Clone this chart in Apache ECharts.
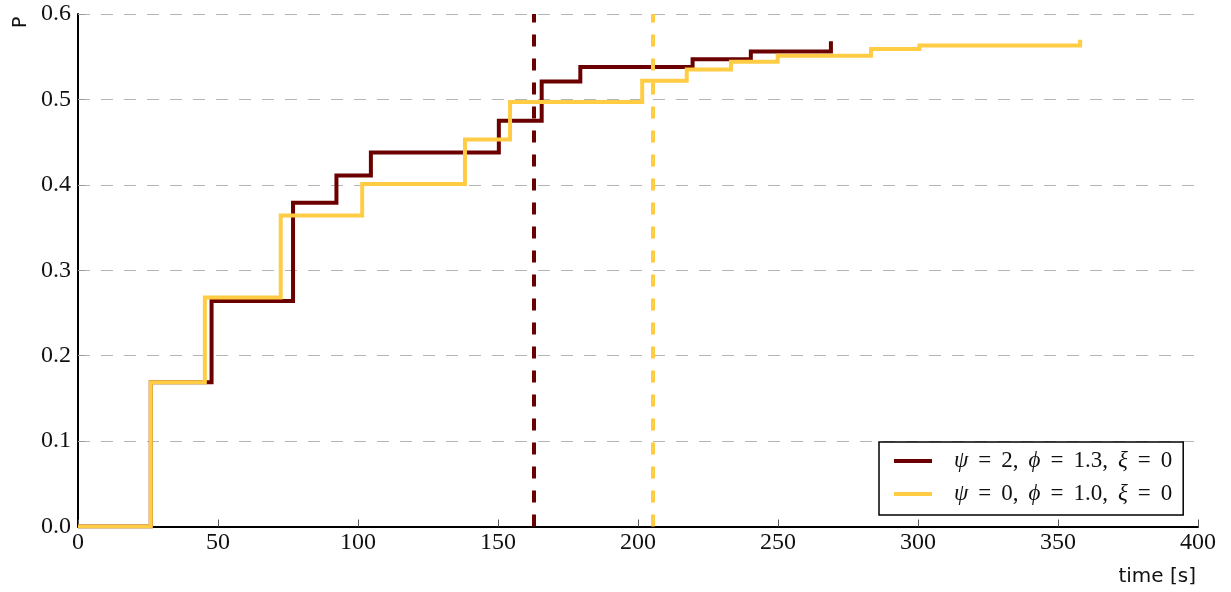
<!DOCTYPE html>
<html>
<head>
<meta charset="utf-8">
<script src="https://cdn.jsdelivr.net/npm/echarts@6/dist/echarts.min.js"></script>
<style>
html,body{margin:0;padding:0;background:#fff;}
#chart{width:1231px;height:592px;}
</style>
</head>
<body>
<div id="chart"></div>
<script>
// ---- data ----
const seriesNames = ['ψ = 2, ϕ = 1.3, ξ = 0', 'ψ = 0, ϕ = 1.0, ξ = 0'];
const darkTimes = [0, 26.0, 47.7, 76.8, 92.3, 104.6, 150.3, 165.6, 179.4, 219.5, 240.3, 268.9];
const darkProb  = [0, 0.169, 0.264, 0.379, 0.411, 0.438, 0.475, 0.521, 0.538, 0.547, 0.556, 0.568];
const yellowTimes = [0, 26.0, 45.3, 72.4, 101.5, 138.2, 154.3, 201.5, 217.4, 233.2, 249.9, 283.2, 300.5, 357.9];
const yellowProb  = [0, 0.169, 0.268, 0.364, 0.401, 0.453, 0.497, 0.522, 0.535, 0.544, 0.551, 0.559, 0.563, 0.570];
const medianTimes = [162.9, 205.1];
const xTicks = {min: 0, max: 400, interval: 50};
const yTicks = {min: 0, max: 0.6, interval: 0.1};

const colors = ['#6b0000', '#ffcc44'];
const zip = (a, b) => a.map((v, i) => [v, b[i]]);

const chart = echarts.init(document.getElementById('chart'), null, {renderer: 'canvas'});

function legendFmt(name) {
  let s = name.replace(/ = /g, '{eq|=}').replace(/, /g, '{cm|,}');
  s = s.replace(/([ψϕξ])/g, '{g|$1}');
  return '{sp|}' + s;
}

function makeSeries(idx, times, probs) {
  return {
    type: 'line',
    name: seriesNames[idx],
    data: zip(times, probs),
    step: 'end',
    showSymbol: false,
    symbol: 'none',
    lineStyle: {color: colors[idx], width: 4, cap: 'butt', join: 'miter'},
    itemStyle: {color: colors[idx]},
    z: 3 + idx,
    markLine: {
      silent: true,
      symbol: 'none',
      label: {show: false},
      lineStyle: {type: [12, 12], width: 4, color: colors[idx]},
      data: [{xAxis: medianTimes[idx]}]
    }
  };
}

const option = {
  animation: false,
  backgroundColor: '#fff',
  grid: {left: 78, right: 33, top: 14, bottom: 65.5, containLabel: false},
  xAxis: {
    type: 'value',
    min: xTicks.min, max: xTicks.max, interval: xTicks.interval,
    axisLine: {show: true, lineStyle: {color: '#000', width: 2}},
    axisTick: {show: true, inside: true, length: 7, lineStyle: {color: '#555', width: 1}},
    axisLabel: {fontFamily: 'Liberation Serif', fontSize: 24, color: '#111', margin: 4},
    splitLine: {show: false},
    name: 'time [s]',
    nameLocation: 'end',
    nameGap: -2,
    nameTextStyle: {fontFamily: 'DejaVu Sans', fontSize: 20, color: '#111', align: 'right', verticalAlign: 'top', padding: [40, 0, 0, 0]}
  },
  yAxis: {
    type: 'value',
    min: yTicks.min, max: yTicks.max, interval: yTicks.interval,
    axisLine: {show: true, lineStyle: {color: '#000', width: 2}},
    axisTick: {show: true, inside: true, length: 7, lineStyle: {color: '#999', width: 1}},
    axisLabel: {fontFamily: 'Liberation Serif', fontSize: 24, color: '#111', margin: 7,
      formatter: v => v.toFixed(1)},
    splitLine: {show: true, lineStyle: {color: '#b4b4b4', width: 1.2, type: [12, 11]}}
  },
  legend: {
    orient: 'vertical',
    left: 879, top: 442,
    itemWidth: 38, itemHeight: 4, itemGap: 9,
    icon: 'rect',
    backgroundColor: '#fff',
    borderColor: '#000', borderWidth: 1.5, borderRadius: 0,
    padding: [7, 11, 9, 15],
    data: seriesNames,
    formatter: legendFmt,
    textStyle: {
      fontFamily: 'Liberation Serif', fontSize: 23, color: '#111', lineHeight: 24,
      rich: {
        sp: {width: 17},
        eq: {fontFamily: 'Liberation Serif', fontSize: 23, color: '#111', padding: [0, 10, 0, 10]},
        cm: {fontFamily: 'Liberation Serif', fontSize: 23, color: '#111', padding: [0, 10, 0, 0]},
        g: {fontFamily: 'Liberation Serif', fontStyle: 'italic', fontSize: 23, color: '#111'}
      }
    }
  },
  graphic: [{
    type: 'text',
    x: 12, y: 28,
    rotation: Math.PI / 2,
    style: {text: 'P', fontFamily: 'DejaVu Sans', fontSize: 19, fill: '#111', textAlign: 'left', textVerticalAlign: 'top'}
  }],
  series: [
    makeSeries(0, darkTimes, darkProb),
    makeSeries(1, yellowTimes, yellowProb)
  ]
};
chart.setOption(option);
</script>
</body>
</html>
